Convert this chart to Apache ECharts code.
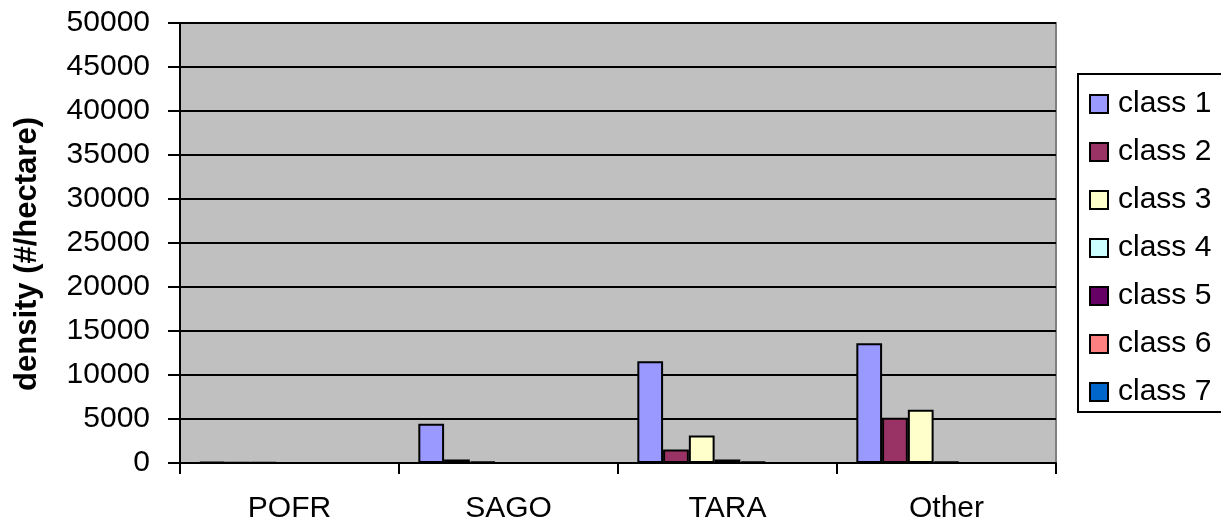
<!DOCTYPE html>
<html>
<head>
<meta charset="utf-8">
<script src="https://cdn.jsdelivr.net/npm/echarts@6/dist/echarts.min.js"></script>
<style>
  html, body { margin: 0; padding: 0; background: #ffffff; }
  #chart { width: 1221px; height: 524px; }
</style>
</head>
<body>
<div id="chart"></div>
<script>
// Species groups on the category axis
const categories = ['POFR', 'SAGO', 'TARA', 'Other'];

// Density (#/hectare) per size class, one value per species group
const class1 = [120, 4450, 11550, 13600];
const class2 = [80, 400, 1520, 5150];
const class3 = [60, 150, 3120, 6050];
const class4 = [0, 0, 400, 150];
const class5 = [0, 0, 180, 0];
const class6 = [0, 0, 0, 0];
const class7 = [0, 0, 0, 0];

const seriesNames = ['class 1', 'class 2', 'class 3', 'class 4', 'class 5', 'class 6', 'class 7'];
const seriesValues = [class1, class2, class3, class4, class5, class6, class7];
const seriesColors = ['#9999FF', '#993366', '#FFFFCC', '#CCFFFF', '#660066', '#FF8080', '#0066CC'];

// Y axis tick range
const yMin = 0;
const yMax = 50000;
const yStep = 5000;

const FONT = '"Liberation Sans", Arial, sans-serif';

const chart = echarts.init(document.getElementById('chart'), null, { renderer: 'canvas' });

const series = seriesNames.map((name, i) => ({
  name: name,
  type: 'bar',
  barGap: '0%',
  barCategoryGap: '17.65%',
  // empty classes are left out instead of drawn as flat bars
  data: seriesValues[i].map(v => (v === 0 ? '-' : v)),
  itemStyle: {
    color: seriesColors[i],
    borderColor: '#000000',
    borderWidth: 2
  },
  emphasis: { disabled: true }
}));

chart.setOption({
  animation: false,
  backgroundColor: '#ffffff',
  textStyle: { fontFamily: FONT },
  grid: {
    left: 180,
    top: 23,
    right: 165,
    bottom: 61,
    show: true,
    backgroundColor: '#C0C0C0',
    borderColor: '#808080',
    borderWidth: 2
  },
  legend: {
    orient: 'vertical',
    left: 1078,
    top: 74,
    padding: [15, 30, 5, 11],
    itemGap: 18,
    itemWidth: 18,
    itemHeight: 18,
    icon: 'rect',
    backgroundColor: '#ffffff',
    borderColor: '#000000',
    borderWidth: 2,
    selectedMode: false,
    textStyle: {
      fontFamily: FONT,
      fontSize: 30,
      color: '#000000',
      padding: [0, 0, 0, 5]
    },
    data: seriesNames
  },
  xAxis: {
    type: 'category',
    data: categories,
    axisLine: { show: true, lineStyle: { color: '#000000', width: 2 } },
    axisTick: { show: true, length: 11, lineStyle: { color: '#000000', width: 2 } },
    axisLabel: { color: '#000000', fontSize: 30, fontFamily: FONT, margin: 31 },
    splitLine: { show: false }
  },
  yAxis: {
    type: 'value',
    min: yMin,
    max: yMax,
    interval: yStep,
    name: 'density (#/hectare)',
    nameLocation: 'middle',
    nameRotate: 90,
    nameGap: 137,
    nameTextStyle: {
      fontFamily: FONT,
      fontSize: 31,
      fontWeight: 'bold',
      color: '#000000',
      padding: [0, 22, 0, 0]
    },
    axisLine: { show: true, lineStyle: { color: '#000000', width: 2 } },
    axisTick: { show: true, length: 12, lineStyle: { color: '#000000', width: 2 } },
    axisLabel: {
      color: '#000000',
      fontSize: 30,
      fontFamily: FONT,
      margin: 30,
      formatter: v => String(v)
    },
    splitLine: { show: true, lineStyle: { color: '#000000', width: 2 } }
  },
  series: series
});
</script>
</body>
</html>
